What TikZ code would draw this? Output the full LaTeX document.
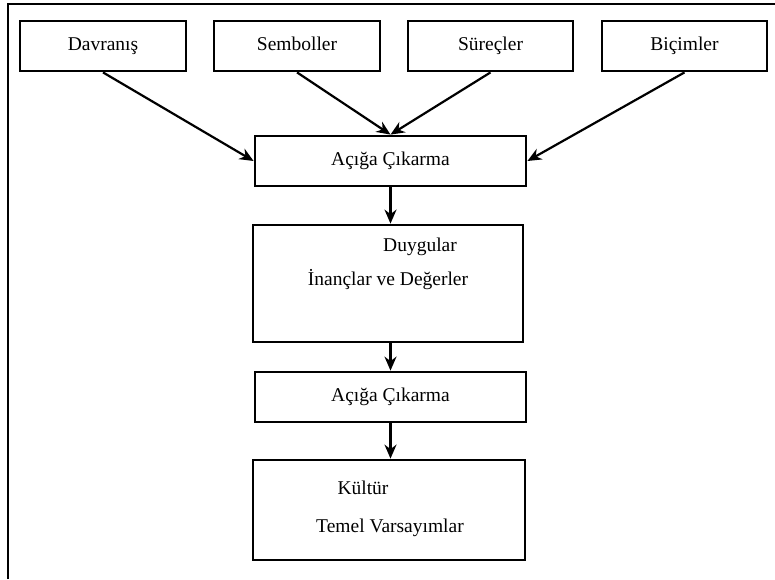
\documentclass[tikz,border=0pt]{standalone}
\usepackage{fontspec}
\setmainfont{Liberation Serif}
\usetikzlibrary{arrows.meta}

\begin{document}
\begin{tikzpicture}[x=1pt, y=-1pt,
    boite/.style={draw, line width=2.8pt, inner sep=0pt, text height=13pt, text depth=4pt, font=\fontsize{19.5}{23}\selectfont},
    fleche/.style={line width=2.2pt, -{Stealth[length=14pt, width=12pt]}},
    texte/.style={inner sep=0pt, font=\fontsize{19.5}{23}\selectfont}]

            \useasboundingbox (0,0) rectangle (775,579);

            % Cadre
            \draw[line width=2pt] (8,579) -- (8,4) -- (775,4);

            % Boîtes
            \node[boite, minimum width=166pt, minimum height=50pt] (dav) at (103,46) {Davranış};
            \node[boite, minimum width=166pt, minimum height=50pt] (sem) at (297,46) {Semboller};
            \node[boite, minimum width=165pt, minimum height=50pt] (sur) at (490.5,46) {Süreçler};
            \node[boite, minimum width=165pt, minimum height=50pt] (bic) at (684.5,46) {Biçimler};
            \node[boite, minimum width=271pt, minimum height=50pt] (ac1) at (390.5,161) {Açığa Çıkarma};
            \node[boite, minimum width=270pt, minimum height=117pt] (duy) at (388,283.5) {};
            \node[boite, minimum width=271pt, minimum height=50pt] (ac2) at (390.5,397) {Açığa Çıkarma};
            \node[boite, minimum width=272pt, minimum height=100pt] (kul) at (389,510) {};

            % Textes
            \node[texte] (t1) at (420,247) {Duygular};
            \node[texte] (t2) at (388,280) {İnançlar ve Değerler};
            \node[texte] (t3) at (363,488) {Kültür};
            \node[texte] (t4) at (390,528) {Temel Varsayımlar};

            % Flèches
            \draw[fleche] (dav.south) -- (ac1.west);
            \draw[fleche] (sem.south) -- (ac1.north);
            \draw[fleche] (sur.south) -- (ac1.north);
            \draw[fleche] (bic.south) -- (ac1.east);
            \draw[fleche] (ac1.south) -- (ac1.south |- duy.north);
            \draw[fleche] (ac1.south |- duy.south) -- (ac1.south |- ac2.north);
            \draw[fleche] (ac2.south) -- (ac2.south |- kul.north);

\end{tikzpicture}
\end{document}
